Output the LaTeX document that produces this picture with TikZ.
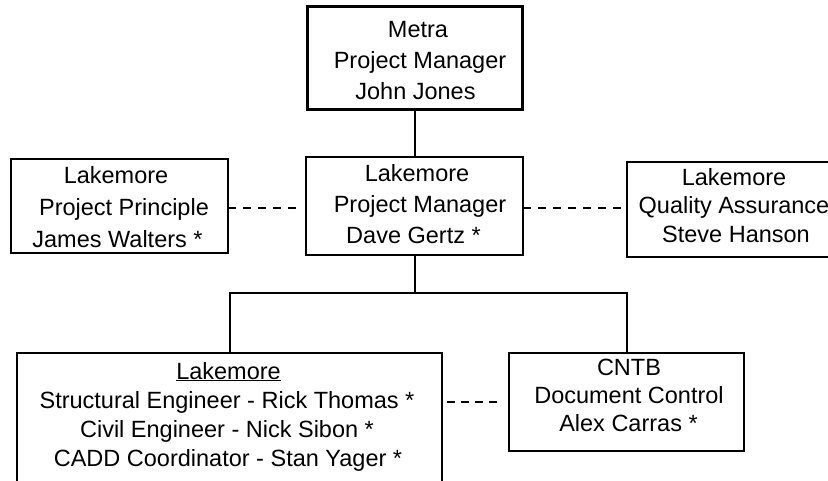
\documentclass[tikz,border=0pt]{standalone}
\usepackage{fontspec}
\setmainfont{Liberation Sans}
\begin{document}
\begin{tikzpicture}[x=1pt,y=-1pt,
  box/.style={draw, line width=2pt, inner sep=0pt, outer sep=0pt},
  tl/.style={anchor=base, inner sep=0pt, font=\fontsize{23.5}{28}\selectfont},
  conn/.style={line width=2pt},
  dconn/.style={line width=2pt, dash pattern=on 8pt off 7pt}]
\useasboundingbox (0,0) rectangle (828,480);
\fill[white] (0,0) rectangle (828,480);
\clip (0,0) rectangle (828,480);
% boxes
\node[box, line width=3pt, minimum width=215pt, minimum height=103pt] (metra) at (414.5,57.5) {};
\node[box, minimum width=217pt, minimum height=98pt] (pm) at (414.5,206) {};
\node[box, minimum width=217pt, minimum height=94pt] (pp) at (119.5,206) {};
\node[box, minimum width=216pt, minimum height=95pt] (qa) at (735,209.5) {};
\node[box, minimum width=425pt, minimum height=157pt] (eng) at (229.5,431.5) {};
\node[box, minimum width=235pt, minimum height=98pt] (cntb) at (626.5,402) {};
% texts
\node[tl] (m1) at (418,37) {Metra};
\node[tl] (m2) at (420,68) {Project Manager};
\node[tl] (m3) at (415.5,99.5) {John Jones};
\node[tl] (p1) at (417,181) {Lakemore};
\node[tl] (p2) at (420,212) {Project Manager};
\node[tl] (p3) at (413.5,243) {Dave Gertz *};
\node[tl] (l1) at (116,183) {Lakemore};
\node[tl] (l2) at (124,215) {Project Principle};
\node[tl] (l3) at (117.5,247) {James Walters *};
\node[tl] (q1) at (734,185) {Lakemore};
\node[tl] (q2) at (734,213) {Quality Assurance};
\node[tl] (q3) at (736,242) {Steve Hanson};
\node[tl] (c1) at (629,375) {CNTB};
\node[tl] (c2) at (629,403) {Document Control};
\node[tl] (c3) at (628.5,431) {Alex Carras *};
\node[tl] (e1) at (228.5,379) {\underline{Lakemore}};
\node[tl] (e2) at (227,408) {Structural Engineer - Rick Thomas *};
\node[tl] (e3) at (227,437) {Civil Engineer - Nick Sibon *};
\node[tl] (e4) at (228,466) {CADD Coordinator - Stan Yager *};
% connectors
\coordinate (j) at (pm.south |- 0,293);
\draw[conn] (metra.south) -- (pm.north);
\draw[dconn, shorten >=6pt] ([yshift=-2pt]pp.east) -- ([yshift=-2pt]pm.west);
\draw[dconn] ([yshift=-2pt]pm.east) -- ([yshift=-2pt]pm.east -| qa.west);
\draw[conn] (pm.south) -- (j);
\draw[conn] (eng.north) -- (eng.north |- j) -- (cntb.north |- j) -- (cntb.north);
\draw[dconn, dash pattern=on 8pt off 6pt, shorten <=5pt, shorten >=12pt] (cntb.west -| eng.east) -- (cntb.west);
\end{tikzpicture}
\end{document}
